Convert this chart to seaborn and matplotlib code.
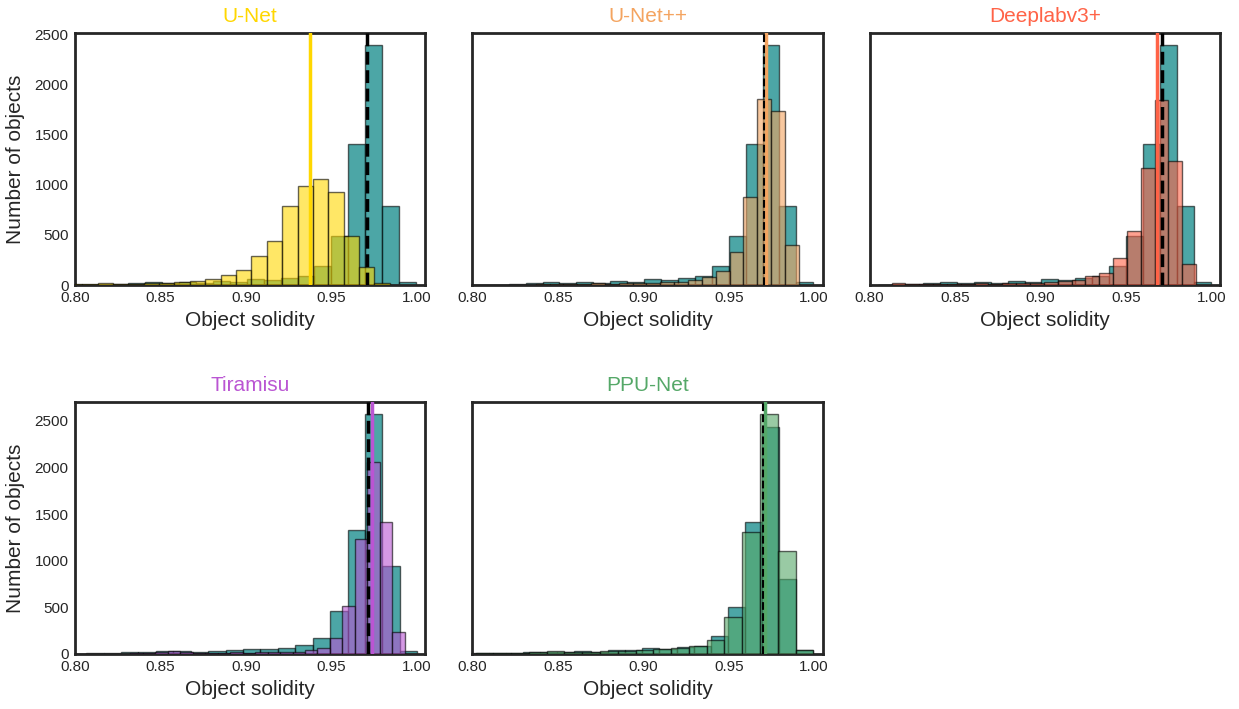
import numpy as np
import pandas as pd
import matplotlib
matplotlib.use("Agg")
import matplotlib.pyplot as plt
import seaborn as sns

# ---------------------------------------------------------------------------
# Histogram data: object counts per solidity bin, listed in ascending order of
# solidity. Each series has its own binning, given by the upper edge of its
# last bin and its bin width.
# ---------------------------------------------------------------------------
models = ["U-Net", "U-Net++", "Deeplabv3+", "Tiramisu", "PPU-Net"]
model_colors = ["#FFD700", "#F4A460", "#FF6347", "#BA55D3", "#55A868"]
gt_color = "teal"

# ground truth, top row (same annotation set for the three models)
gt_top_counts = [2, 3, 3, 7, 23, 27, 17, 33, 17, 40, 33, 57, 50, 67, 90,
                 190, 493, 1407, 2400, 793, 30]
gt_top_upper, gt_top_width = 0.9995, 0.0099

# ground truth matched to Tiramisu
gt_tiramisu_counts = [3, 7, 7, 18, 25, 36, 36, 25, 36, 43, 50, 50, 61, 93,
                      168, 461, 1331, 2575, 948, 34]
gt_tiramisu_upper, gt_tiramisu_width = 1.0003, 0.0102

# ground truth matched to PPU-Net
gt_ppunet_counts = [7, 7, 14, 25, 25, 25, 36, 25, 43, 43, 61, 50, 72, 89,
                    197, 501, 1420, 2432, 805, 40]
gt_ppunet_upper, gt_ppunet_width = 0.9995, 0.0100

# predictions
unet_counts = [7, 13, 17, 7, 13, 17, 23, 33, 43, 57, 100, 150, 293, 440, 790,
               990, 1057, 927, 490, 177, 17]
unet_upper, unet_width = 0.9842, 0.0090

unetpp_counts = [2, 2, 3, 3, 3, 10, 7, 7, 10, 17, 10, 17, 17, 17, 33, 33, 55,
                 77, 143, 327, 883, 1860, 1743, 400]
unetpp_upper, unetpp_width = 0.9910, 0.0081

deeplab_counts = [3, 17, 7, 7, 7, 10, 10, 17, 10, 17, 17, 23, 33, 40, 50, 90,
                  120, 267, 535, 1167, 1850, 1240, 207]
deeplab_upper, deeplab_width = 0.9910, 0.0081

tiramisu_counts = [2, 2, 3, 5, 5, 10, 10, 25, 30, 20, 15, 10, 15, 20, 15, 20,
                   20, 18, 25, 43, 61, 168, 515, 1230, 2064, 1413, 233]
tiramisu_upper, tiramisu_width = 0.9930, 0.0073

ppunet_counts = [5, 7, 10, 15, 20, 30, 25, 25, 30, 35, 45, 50, 60, 89, 150,
                 393, 1306, 2572, 1109, 43]
ppunet_upper, ppunet_width = 0.9995, 0.0104

# median solidity of ground truth and of each model's predictions
gt_medians = [0.9708, 0.9708, 0.9708, 0.9715, 0.9703]
pred_medians = [0.9374, 0.9718, 0.9680, 0.9737, 0.9712]

x_ticks = [0.80, 0.85, 0.90, 0.95, 1.00]
y_ticks = [0, 500, 1000, 1500, 2000, 2500]

gt_series = [
    (gt_top_counts, gt_top_upper, gt_top_width),
    (gt_top_counts, gt_top_upper, gt_top_width),
    (gt_top_counts, gt_top_upper, gt_top_width),
    (gt_tiramisu_counts, gt_tiramisu_upper, gt_tiramisu_width),
    (gt_ppunet_counts, gt_ppunet_upper, gt_ppunet_width),
]
pred_series = [
    (unet_counts, unet_upper, unet_width),
    (unetpp_counts, unetpp_upper, unetpp_width),
    (deeplab_counts, deeplab_upper, deeplab_width),
    (tiramisu_counts, tiramisu_upper, tiramisu_width),
    (ppunet_counts, ppunet_upper, ppunet_width),
]
median_line_widths = [2.5, 1.5, 2.5, 2.5, 1.5]

# ---------------------------------------------------------------------------
sns.set_theme(style="white")
plt.rcParams["font.family"] = ["Liberation Sans", "DejaVu Sans"]


def bin_edges(upper, width, n):
    return upper - width * np.arange(n, -1, -1)


def draw_hist(ax, counts, upper, width, color, alpha, z):
    edges = bin_edges(upper, width, len(counts))
    frame = pd.DataFrame({
        "solidity": 0.5 * (edges[:-1] + edges[1:]),
        "objects": np.asarray(counts, dtype=float),
    })
    sns.histplot(data=frame, x="solidity", weights="objects",
                 bins=list(edges), color=color, alpha=alpha,
                 edgecolor=(0, 0, 0, 0.6), linewidth=1.0, ax=ax, zorder=z)


fig, axes = plt.subplots(2, 3, figsize=(12.39, 7.09), dpi=100, sharey="row")
fig.subplots_adjust(left=0.0605, right=0.9847, top=0.9535, bottom=0.0776,
                    wspace=0.134, hspace=0.464)

for i, ax in enumerate(axes.flat[:5]):
    g_counts, g_up, g_w = gt_series[i]
    p_counts, p_up, p_w = pred_series[i]
    color = model_colors[i]

    draw_hist(ax, g_counts, g_up, g_w, gt_color, 0.7, 2)
    draw_hist(ax, p_counts, p_up, p_w, color, 0.6, 3)

    ax.axvline(pred_medians[i], color=color, lw=2.5, zorder=4)
    ax.axvline(gt_medians[i], color="black", ls="--",
               lw=median_line_widths[i], zorder=5)

    ax.set_xlim(0.8, 1.005)
    ax.set_xticks(x_ticks)
    ax.set_yticks(y_ticks)
    ax.tick_params(labelsize=11, colors="0.15", length=0, pad=4.5)
    ax.set_title(models[i], color=color, fontsize=15, pad=8)
    ax.set_xlabel("Object solidity", fontsize=15, color="0.15", labelpad=4)
    if i % 3 == 0:
        ax.set_ylabel("Number of objects", fontsize=15, color="0.15",
                      labelpad=7)
    else:
        ax.set_ylabel("")
    for sp in ax.spines.values():
        sp.set_linewidth(2)
        sp.set_color("0.15")

axes[1, 2].remove()

fig.savefig("out.png", dpi=100)
